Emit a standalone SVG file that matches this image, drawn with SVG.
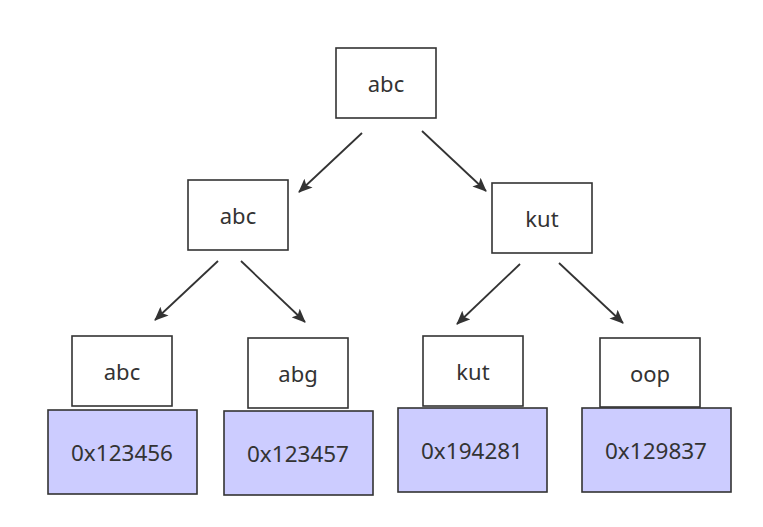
<svg xmlns="http://www.w3.org/2000/svg" width="763" height="527" viewBox="0 0 763 527">
<style>
.k rect{fill:#ffffff;stroke:#333333;stroke-width:1.6}
.v rect{fill:#ccccff;stroke:#333333;stroke-width:1.6}
text{font-family:"Noto Sans","DejaVu Sans",sans-serif;font-size:22px;fill:#333333;text-anchor:middle;dominant-baseline:central}
.v text{font-size:22.5px}
#edges line{stroke:#333333;stroke-width:1.8;marker-end:url(#ah)}
</style>
<defs>
<marker id="ah" viewBox="0 0 14 12" refX="13" refY="6" markerWidth="14" markerHeight="12" markerUnits="userSpaceOnUse" orient="auto"><path d="M0,0 L14,6 L0,12 L3,6 Z" fill="#333333"/></marker>
</defs>
<rect width="763" height="527" fill="#ffffff"/>
<g id="edges">
<line x1="362" y1="133" x2="299" y2="192"/>
<line x1="422" y1="131" x2="486" y2="191"/>
<line x1="218" y1="261" x2="155" y2="320"/>
<line x1="241" y1="261" x2="305" y2="322"/>
<line x1="520" y1="264" x2="457" y2="324"/>
<line x1="559" y1="263" x2="623" y2="323"/>
</g>
<g id="root" class="k"><rect x="336" y="48" width="100" height="70"/><text x="386" y="83">abc</text></g>
<g id="l2a" class="k"><rect x="188" y="180" width="100" height="70"/><text x="238" y="215">abc</text></g>
<g id="l2b" class="k"><rect x="492" y="183" width="100" height="70"/><text x="542" y="218">kut</text></g>
<g id="l3a" class="k"><rect x="72" y="336" width="100" height="70"/><text x="122" y="371">abc</text></g>
<g id="l3b" class="k"><rect x="248" y="338" width="100" height="70"/><text x="298" y="373">abg</text></g>
<g id="l3c" class="k"><rect x="423" y="336" width="100" height="70"/><text x="473" y="371">kut</text></g>
<g id="l3d" class="k"><rect x="600" y="338" width="100" height="69"/><text x="650" y="373">oop</text></g>
<g id="v1" class="v"><rect x="48" y="410" width="149" height="84"/><text x="122" y="452">0x123456</text></g>
<g id="v2" class="v"><rect x="224" y="411" width="149" height="84"/><text x="298" y="453">0x123457</text></g>
<g id="v3" class="v"><rect x="398" y="408" width="149" height="84"/><text x="472" y="450">0x194281</text></g>
<g id="v4" class="v"><rect x="582" y="408" width="149" height="84"/><text x="656" y="450">0x129837</text></g>
</svg>
